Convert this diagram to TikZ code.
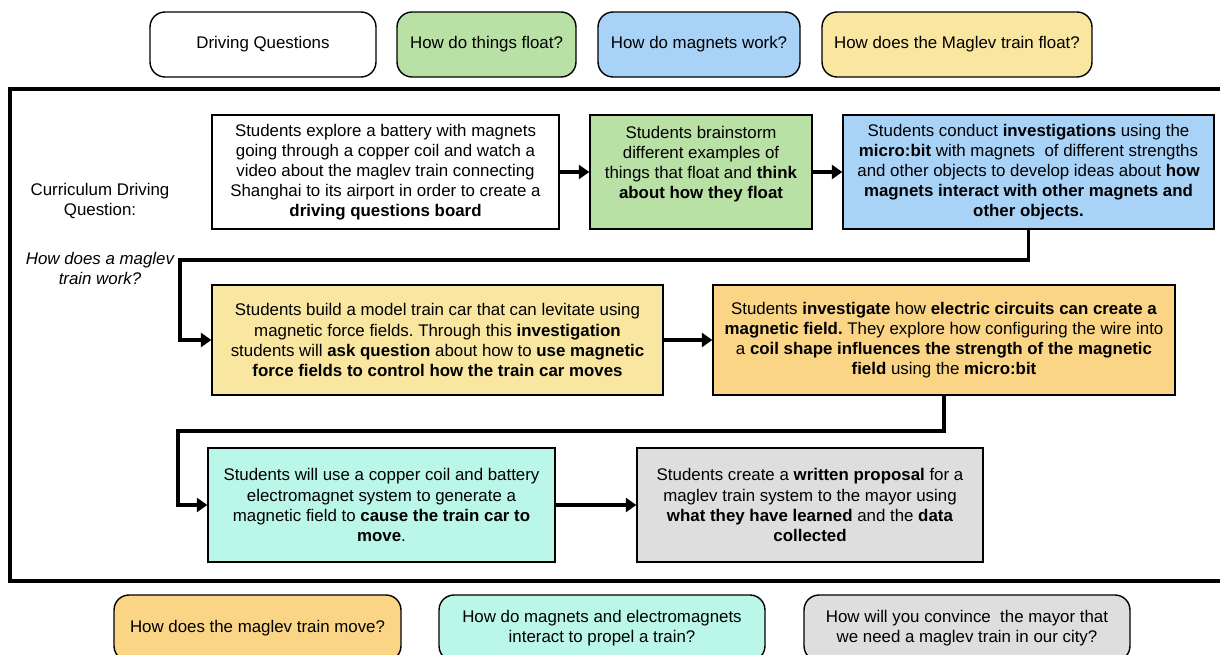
\documentclass[tikz,border=0pt]{standalone}
\usepackage{fontspec}
\setmainfont{Liberation Sans}
\usetikzlibrary{arrows.meta}
\frenchspacing

\definecolor{qgreen}{HTML}{B9E0A5}
\definecolor{qblue}{HTML}{A9D2F7}
\definecolor{qyellow}{HTML}{F9E6A1}
\definecolor{qorange}{HTML}{FBD586}
\definecolor{qmint}{HTML}{BAF7E8}
\definecolor{qgrey}{HTML}{DEDEDF}

\tikzset{
  stepbox/.style={draw, line width=0.8pt, align=center, inner sep=2pt,
    font=\fontsize{9.6}{11.4}\selectfont},
  qbox/.style={stepbox, rounded corners=0.3cm, minimum height=1.3cm},
  flow/.style={line width=1.8pt, -{Triangle[length=6pt,width=8pt]}}
}

\begin{document}
\begin{tikzpicture}[x=0.02cm, y=-0.02cm]
\useasboundingbox (0,0) rectangle (1220,655);
\clip (0,0) rectangle (1220,655);

% driving questions along the top
\node[qbox, minimum width=4.52cm] (dq) at (263,44.5) {Driving Questions};
\node[qbox, fill=qgreen, minimum width=3.58cm] (qfloat) at (486.5,44.5) {How do things float?};
\node[qbox, fill=qblue, minimum width=4.04cm] (qmagnet) at (699,44.5) {How do magnets work?};
\node[qbox, fill=qyellow, minimum width=5.4cm] (qmaglev) at (957,44.5) {How does the Maglev train float?};

% unit frame
\draw [line width=1.8pt] (10,89) rectangle (1240,581);
\node[stepbox, draw=none] (cdq) at (100,201) {Curriculum Driving\\ Question:};
\node[stepbox, draw=none, font=\fontsize{9.6}{11.4}\selectfont\itshape] (cdqtext) at (100,268) {How does a maglev\\ train work?};

% first row
\node[stepbox, minimum width=6.94cm, minimum height=2.28cm] (explore) at (385.5,172)
  {Students explore a battery with magnets\\ going through a copper coil and watch a\\
   video about the maglev train connecting\\ Shanghai to its airport in order to create a\\
   \textbf{driving questions board}};
\node[stepbox, fill=qgreen, minimum width=4.44cm, minimum height=2.28cm] (brainstorm) at (701,172)
  {Students brainstorm\\ different examples of\\ things that float and \textbf{think}\\
   \textbf{about how they float}\\ ~};
\node[stepbox, fill=qblue, minimum width=7.42cm, minimum height=2.28cm] (investigate) at (1028.5,172)
  {Students conduct \textbf{investigations} using the\\ \textbf{micro:bit} with magnets\ \ of different strengths\\
   and other objects to develop ideas about \textbf{how}\\ \textbf{magnets interact with other magnets and}\\
   \textbf{other objects.}};

% second row
\node[stepbox, fill=qyellow, minimum width=9.02cm, minimum height=2.2cm] (model) at (437.5,340)
  {Students build a model train car that can levitate using\\ magnetic force fields. Through this \textbf{investigation}\\
   students will \textbf{ask question} about how to \textbf{use magnetic}\\ \textbf{force fields to control how the train car moves}};
\node[stepbox, fill=qorange, minimum width=9.24cm, minimum height=2.2cm] (circuit) at (944,340)
  {Students \textbf{investigate} how \textbf{electric circuits can create a}\\ \textbf{magnetic field.} They explore how configuring the wire into\\
   a \textbf{coil shape influences the strength of the magnetic}\\ \textbf{field} using the \textbf{micro:bit}};

% third row
\node[stepbox, fill=qmint, minimum width=6.94cm, minimum height=2.28cm] (coil) at (381.5,505)
  {Students will use a copper coil and battery\\ electromagnet system to generate a\\
   magnetic field to \textbf{cause the train car to}\\ \textbf{move}.};
\node[stepbox, fill=qgrey, minimum width=6.92cm, minimum height=2.28cm] (proposal) at (810,505)
  {Students create a \textbf{written proposal} for a\\ maglev train system to the mayor using\\
   \textbf{what they have learned} and the \textbf{data}\\ \textbf{collected}};

% connectors
\coordinate (turn1) at (180,260);
\coordinate (turn2) at (178,431);
\draw [flow] (explore) -- (brainstorm);
\draw [flow] (brainstorm) -- (investigate);
\draw [flow] (investigate.south) |- (turn1) |- (model.west);
\draw [flow] (model) -- (circuit);
\draw [flow] (circuit.south) |- (turn2) |- (coil.west);
\draw [flow] (coil) -- (proposal);

% driving questions along the bottom
\node[qbox, fill=qorange, minimum width=5.74cm, minimum height=1.32cm] (qmove) at (257.5,628) {How does the maglev train move?};
\node[qbox, fill=qmint, minimum width=6.52cm, minimum height=1.32cm] (qpropel) at (602,628)
  {How do magnets and electromagnets\\ interact to propel a train?};
\node[qbox, fill=qgrey, minimum width=6.52cm, minimum height=1.32cm] (qmayor) at (967,628)
  {How will you convince\ \ the mayor that\\ we need a maglev train in our city?};
\end{tikzpicture}
\end{document}
